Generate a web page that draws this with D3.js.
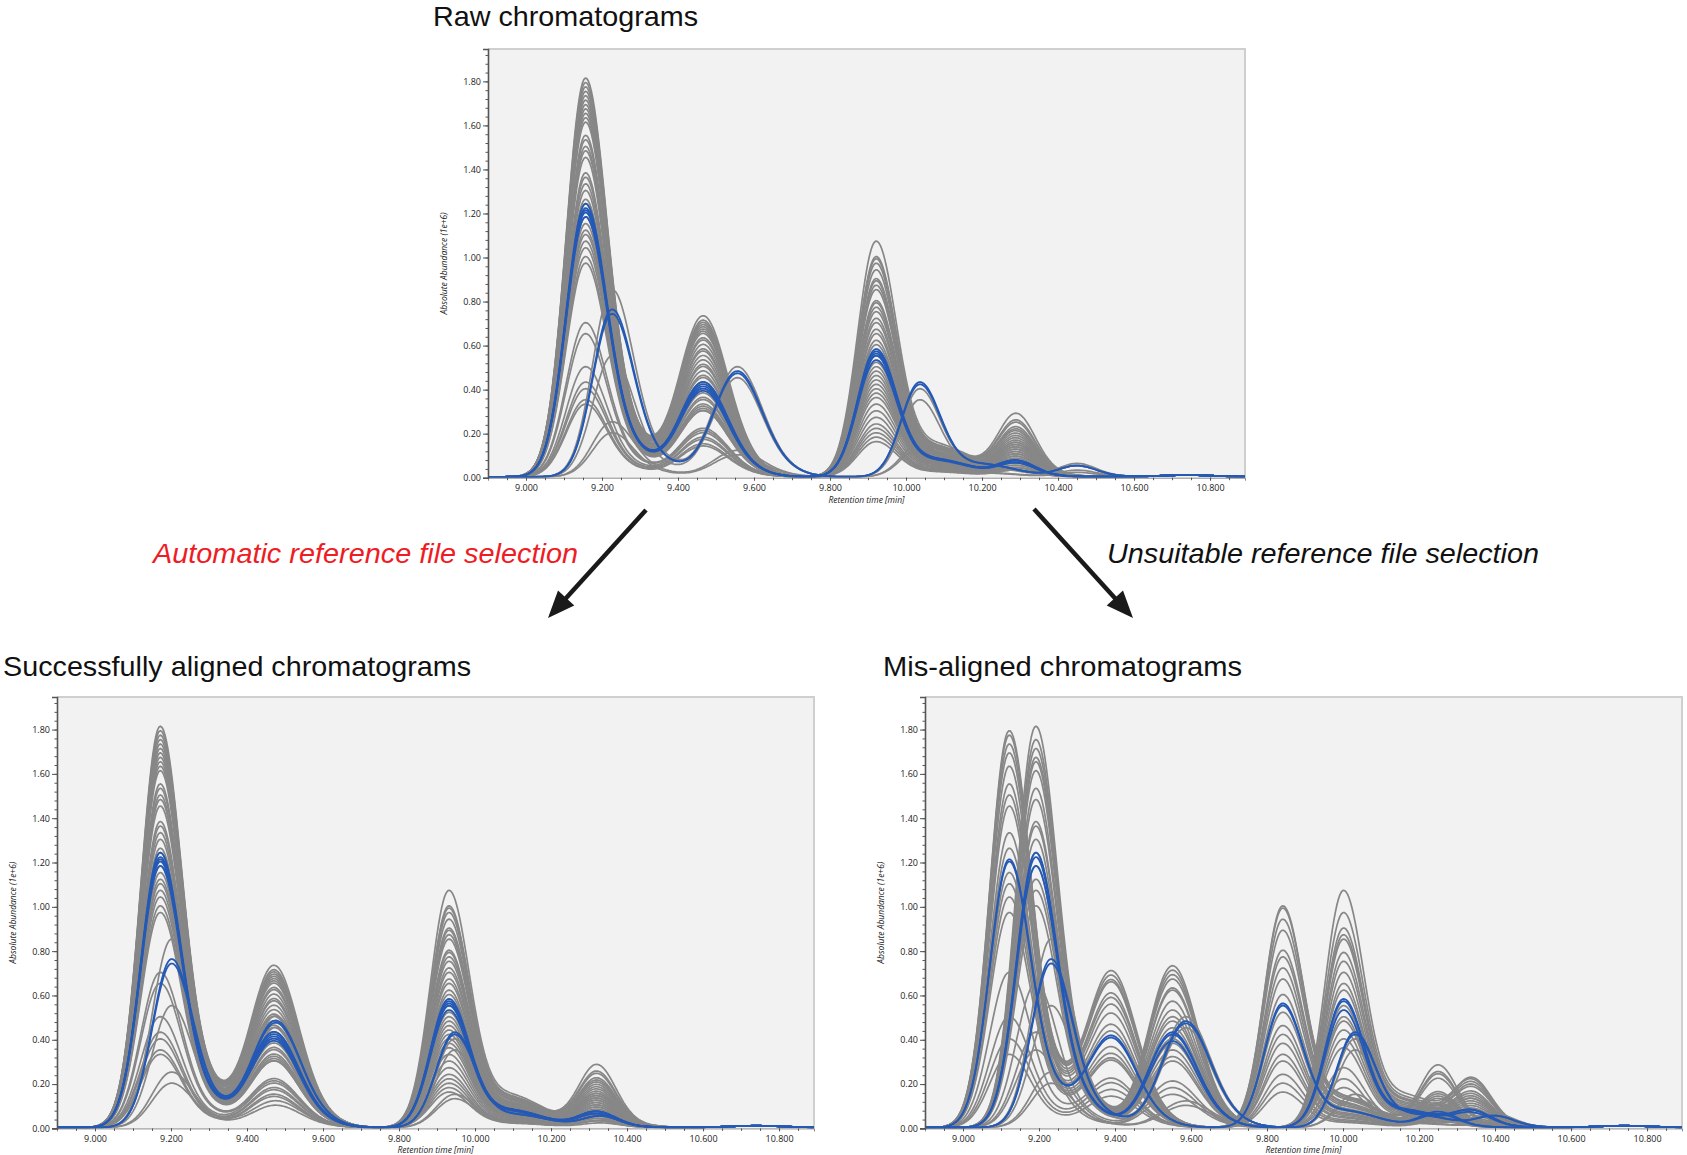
<!DOCTYPE html>
<html>
<head>
<meta charset="utf-8">
<script src="https://cdn.jsdelivr.net/npm/d3@7"></script>
<style>
  body { margin: 0; background: #fff; }
  svg { display: block; }
  .tick text { font-family: "Open Sans", "DejaVu Sans", sans-serif; font-size: 9px; fill: #222; }
  .axis-title { font-family: "Open Sans", "DejaVu Sans", sans-serif; font-size: 8.5px; font-style: italic; fill: #222; }
  .panel-title { font-family: "Liberation Sans", Arial, sans-serif; font-size: 28px; fill: #111; }
  .note { font-family: "Liberation Sans", Arial, sans-serif; font-size: 28px; font-style: italic; }
</style>
</head>
<body>
<div id="chart"></div>
<script>
// ---- data ----

// tick labels
var xTicks = [9.0, 9.2, 9.4, 9.6, 9.8, 10.0, 10.2, 10.4, 10.6, 10.8];
var yTicks = [0.0, 0.2, 0.4, 0.6, 0.8, 1.0, 1.2, 1.4, 1.6, 1.8];

// peak apex retention times [min] (peaks 1..4) for each state
var rawApexMain     = [9.155, 9.465, 9.92, 10.29];
var rawApexLate     = [9.225, 9.555, 10.035, 10.45];
var alignedApexMain = [9.17, 9.47, 9.93, 10.32];
var alignedApexLate = [9.20, 9.475, 9.945, 10.33];
var misApexEarly    = [9.12, 9.39, 9.84, 10.25];
var misApexLate     = [9.19, 9.55, 10.00, 10.34];
var misApexShifted  = [9.23, 9.585, 10.03, 10.40];

// peak shapes (min)
var sigmaLeft  = [0.050, 0.062, 0.048, 0.048];
var sigmaRight = [0.056, 0.064, 0.054, 0.050];
var tailOffset = [0.11, 0.11, 0.16, 0.09];
var tailSigma  = [0.065, 0.06, 0.09, 0.06];
var tailRatio  = [0.10, 0.06, 0.14, 0.05];
var baselineLevel = 0.004;
var bumpApex = 10.74, bumpHeight = 0.008, bumpSigma = 0.07;

// grey samples: peak heights (1e+6)
var grayP1 = [1.81, 1.79, 1.77, 1.75, 1.73, 1.71, 1.69, 1.67, 1.65, 1.63, 1.61, 1.55, 1.53, 1.50, 1.48, 1.45, 1.38, 1.36, 1.33, 1.30,
              1.26, 1.24, 1.18, 1.15, 1.12, 1.10, 1.07, 1.04, 1.00, 0.97, 0.85, 0.70, 0.65, 0.55, 0.50, 0.43, 0.40, 0.35, 0.33, 0.25, 0.20];
var grayP2 = [0.73, 0.70, 0.68, 0.71, 0.66, 0.69, 0.65, 0.63, 0.67, 0.60, 0.62, 0.58, 0.57, 0.55, 0.53, 0.51, 0.50, 0.48, 0.46, 0.45,
              0.43, 0.40, 0.38, 0.36, 0.35, 0.33, 0.32, 0.31, 0.30, 0.30, 0.50, 0.22, 0.21, 0.45, 0.20, 0.18, 0.17, 0.15, 0.14, 0.12, 0.10];
var grayP3 = [1.07, 0.99, 1.00, 0.97, 0.94, 0.90, 0.89, 0.87, 0.85, 0.80, 0.79, 0.77, 0.75, 0.72, 0.70, 0.67, 0.65, 0.62, 0.60, 0.55,
              0.52, 0.50, 0.48, 0.46, 0.44, 0.42, 0.40, 0.38, 0.36, 0.33, 0.40, 0.30, 0.27, 0.35, 0.24, 0.22, 0.20, 0.18, 0.16, 0.15, 0.13];
var grayP4 = [0.20, 0.25, 0.28, 0.19, 0.24, 0.21, 0.22, 0.18, 0.17, 0.16, 0.15, 0.15, 0.14, 0.14, 0.13, 0.13, 0.12, 0.12, 0.11, 0.11,
              0.10, 0.10, 0.09, 0.09, 0.08, 0.08, 0.07, 0.07, 0.06, 0.06, 0.06, 0.05, 0.05, 0.05, 0.04, 0.04, 0.04, 0.03, 0.03, 0.03, 0.02];
// 1 = eluted late in the raw run
var grayRawLate = [0, 0, 0, 0, 0, 0, 0, 0, 0, 0, 0, 0, 0, 0, 0, 0, 0, 0, 0, 0,
                   0, 0, 0, 0, 0, 0, 0, 0, 0, 0, 1, 0, 0, 1, 0, 0, 0, 0, 0, 1, 1];
// group after alignment to the unsuitable reference
var grayMisGroup = ["B", "A", "A", "B", "A", "B", "A", "B", "B", "A", "B", "A", "B", "A", "B", "A", "B", "B", "A", "B",
                    "A", "B", "B", "A", "B", "A", "B", "A", "B", "A", "B", "A", "B", "B", "A", "B", "A", "B", "A", "B", "B"];

// blue (highlighted) samples
var blueP1 = [1.24, 1.22, 1.21, 1.20, 1.18, 0.76, 0.74];
var blueP2 = [0.43, 0.42, 0.41, 0.40, 0.39, 0.48, 0.47];
var blueP3 = [0.58, 0.57, 0.56, 0.55, 0.53, 0.43, 0.42];
var blueP4 = [0.07, 0.07, 0.07, 0.06, 0.06, 0.05, 0.05];
var blueRawLate = [0, 0, 0, 0, 0, 1, 1];
var blueMisGroup = ["B", "B", "A", "A", "B", "B", "B"];

// ---- layout ----
var W = 1687, H = 1155;
var grayColor = "#878787", blueColor = "#2459b5";

var svg = d3.select("#chart").append("svg")
    .attr("width", W)
    .attr("height", H);

var timeGrid = d3.range(8.9, 10.895, 0.004);

// asymmetric gaussian plus a tailing shoulder, scaled so the apex equals h
function peakValue(t, mu, h, k) {
    var s = t < mu ? sigmaLeft[k] : sigmaRight[k];
    var z = (t - mu) / s;
    var zt = (t - mu - tailOffset[k]) / tailSigma[k];
    var z0 = tailOffset[k] / tailSigma[k];
    var norm = 1 + tailRatio[k] * Math.exp(-0.5 * z0 * z0);
    return h * (Math.exp(-0.5 * z * z) + tailRatio[k] * Math.exp(-0.5 * zt * zt)) / norm;
}

function trace(heights, apex) {
    return timeGrid.map(function(t) {
        var zb = (t - bumpApex) / bumpSigma;
        var v = baselineLevel + bumpHeight * Math.exp(-0.5 * zb * zb);
        for (var k = 0; k < 4; k++) v += peakValue(t, apex[k], heights[k], k);
        return [t, v];
    });
}

function samples(p1, p2, p3, p4, rawLate, misGroup, color) {
    return p1.map(function(d, i) {
        return {
            heights: [p1[i], p2[i], p3[i], p4[i]],
            rawLate: rawLate[i] === 1,
            misGroup: misGroup[i],
            color: color
        };
    });
}

var allSamples = samples(grayP1, grayP2, grayP3, grayP4, grayRawLate, grayMisGroup, grayColor)
    .concat(samples(blueP1, blueP2, blueP3, blueP4, blueRawLate, blueMisGroup, blueColor));

function apexRaw(s) { return s.rawLate ? rawApexLate : rawApexMain; }
function apexAligned(s) { return s.rawLate ? alignedApexLate : alignedApexMain; }
function apexMis(s) {
    if (s.rawLate) return misApexShifted;
    return s.misGroup === "A" ? misApexEarly : misApexLate;
}

var panelId = 0;
function drawPanel(left, top, width, height, apexFn) {
    panelId++;
    var x = d3.scaleLinear().domain([8.9, 10.892]).range([left, left + width]);
    var y = d3.scaleLinear().domain([0, 1.947]).range([top + height, top]);
    var g = svg.append("g");

    g.append("rect")
        .attr("x", left).attr("y", top)
        .attr("width", width).attr("height", height)
        .attr("fill", "#f2f2f2");

    // top and right frame
    g.append("path")
        .attr("d", "M" + left + "," + top + "H" + (left + width) + "V" + (top + height))
        .attr("fill", "none")
        .attr("stroke", "#cfcfcf")
        .attr("stroke-width", 2);

    g.append("clipPath").attr("id", "clip" + panelId)
        .append("rect")
        .attr("x", left).attr("y", top - 1)
        .attr("width", width).attr("height", height + 1);

    var line = d3.line()
        .x(function(d) { return x(d[0]); })
        .y(function(d) { return y(d[1]); });

    var curves = g.append("g").attr("clip-path", "url(#clip" + panelId + ")");
    curves.selectAll("path")
        .data(allSamples)
        .enter()
        .append("path")
        .attr("d", function(s) { return line(trace(s.heights, apexFn(s))); })
        .attr("fill", "none")
        .attr("stroke", function(s) { return s.color; })
        .attr("stroke-width", function(s) { return s.color === blueColor ? 1.8 : 1.7; })
        .attr("stroke-linejoin", "round");

    // x axis
    var xAxis = g.append("g")
        .attr("transform", "translate(0," + (top + height) + ")")
        .call(d3.axisBottom(x).tickValues(xTicks).tickFormat(d3.format(".3f")).tickSize(3).tickPadding(4));
    xAxis.select(".domain").attr("stroke", "#8a8a8a").attr("stroke-width", 1);
    xAxis.selectAll(".tick line").attr("stroke", "#555");
    g.append("g")
        .attr("transform", "translate(0," + (top + height) + ")")
        .call(d3.axisBottom(x).tickValues(d3.range(8.95, 10.89, 0.05)).tickFormat("").tickSize(2.5))
        .call(function(a) { a.select(".domain").remove(); a.selectAll("line").attr("stroke", "#555"); });

    // y axis
    var yAxis = g.append("g")
        .attr("transform", "translate(" + left + ",0)")
        .call(d3.axisLeft(y).tickValues(yTicks).tickFormat(d3.format(".2f")).tickSize(5).tickPadding(2));
    yAxis.select(".domain").attr("stroke", "#555").attr("stroke-width", 1.6);
    yAxis.selectAll(".tick line").attr("stroke", "#555");
    g.append("g")
        .attr("transform", "translate(" + left + ",0)")
        .call(d3.axisLeft(y).tickValues(d3.range(0.04, 1.94, 0.04)).tickFormat("").tickSize(2.5))
        .call(function(a) { a.select(".domain").remove(); a.selectAll("line").attr("stroke", "#555"); });

    g.append("text")
        .attr("class", "axis-title")
        .attr("x", left + width / 2)
        .attr("y", top + height + 25)
        .attr("text-anchor", "middle")
        .text("Retention time [min]");

    g.append("text")
        .attr("class", "axis-title")
        .attr("transform", "translate(" + (left - 41) + "," + (top + height / 2) + ") rotate(-90)")
        .attr("text-anchor", "middle")
        .text("Absolute Abundance (1e+6)");
}

drawPanel(488, 49, 757, 428.7, apexRaw);
drawPanel(57, 697, 757, 431.4, apexAligned);
drawPanel(925, 697, 757, 431.4, apexMis);

// titles
function title(txt, x, y, len, cls, color) {
    svg.append("text")
        .attr("class", cls)
        .attr("x", x).attr("y", y)
        .attr("textLength", len)
        .attr("lengthAdjust", "spacingAndGlyphs")
        .attr("fill", color)
        .text(txt);
}
title("Raw chromatograms", 433, 26, 265, "panel-title", "#111");
title("Successfully aligned chromatograms", 3, 676, 468, "panel-title", "#111");
title("Mis-aligned chromatograms", 883, 676, 359, "panel-title", "#111");
title("Automatic reference file selection", 153, 563, 425, "note", "#ee1c25");
title("Unsuitable reference file selection", 1107, 563, 432, "note", "#111");

// arrows
function arrow(x1, y1, x2, y2) {
    var dx = x2 - x1, dy = y2 - y1, len = Math.sqrt(dx * dx + dy * dy);
    var ux = dx / len, uy = dy / len;
    var headLen = 27, headHalf = 11;
    var bx = x2 - ux * headLen, by = y2 - uy * headLen;
    svg.append("line")
        .attr("x1", x1).attr("y1", y1)
        .attr("x2", bx + ux * 2).attr("y2", by + uy * 2)
        .attr("stroke", "#1a1a1a")
        .attr("stroke-width", 4.5);
    svg.append("path")
        .attr("d", "M" + x2 + "," + y2 +
            "L" + (bx - uy * headHalf) + "," + (by + ux * headHalf) +
            "L" + (bx + uy * headHalf) + "," + (by - ux * headHalf) + "Z")
        .attr("fill", "#1a1a1a");
}
arrow(646, 510, 548, 618);
arrow(1034, 509, 1133, 618);
</script>
</body>
</html>
